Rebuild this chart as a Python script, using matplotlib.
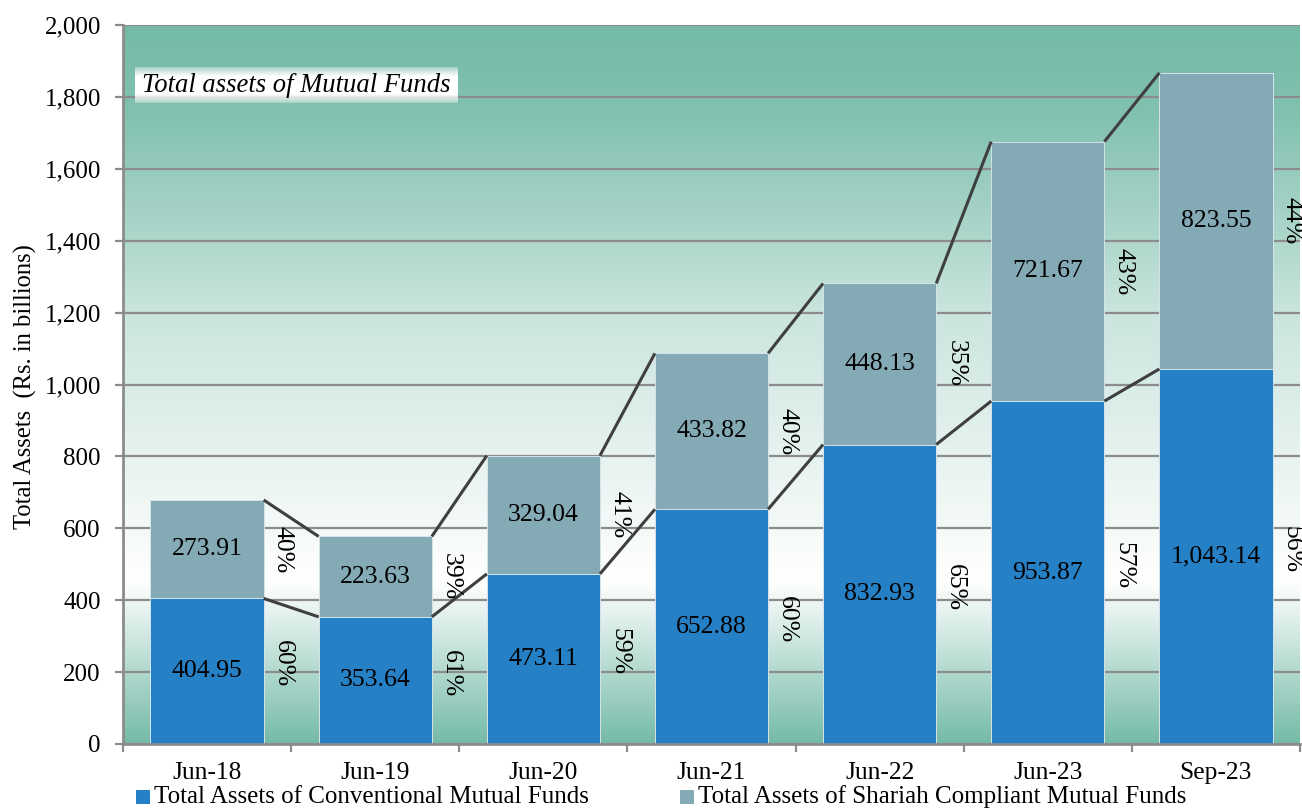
import numpy as np
import matplotlib
matplotlib.use("Agg")
import matplotlib.pyplot as plt
from matplotlib.patches import Rectangle
from matplotlib.colors import to_rgb
from matplotlib.ticker import FuncFormatter

# ---------------- data ----------------
categories = ["Jun-18", "Jun-19", "Jun-20", "Jun-21", "Jun-22", "Jun-23", "Sep-23"]
conventional = [404.95, 353.64, 473.11, 652.88, 832.93, 953.87, 1043.14]
shariah = [273.91, 223.63, 329.04, 433.82, 448.13, 721.67, 823.55]
series_names = ["Total Assets of Conventional Mutual Funds",
                "Total Assets of Shariah Compliant Mutual Funds"]
chart_title = "Total assets of Mutual Funds"
y_label = "Total Assets  (Rs. in billions)"
y_ticks = [0, 200, 400, 600, 800, 1000, 1200, 1400, 1600, 1800, 2000]

# ---------------- style ----------------
plt.rcParams['font.family'] = ['Liberation Serif', 'DejaVu Serif']
c_conv = "#2680C5"
c_shar = "#83AAB5"
c_green = "#74BAA7"
c_grid = "#8C8C8C"
c_line = "#3F3F3F"

W, H = 1302, 808
fig = plt.figure(figsize=(W / 100, H / 100), dpi=100)
ax = fig.add_axes([123 / W, 1 - 744 / H, (1300 - 123) / W, (744 - 25) / H])

n = len(categories)
x = np.arange(n)
conv = np.array(conventional)
shar = np.array(shariah)
total = conv + shar
bw = 0.673

# background gradient
g = np.array(to_rgb(c_green))
wht = np.array([1.0, 1.0, 1.0])
vals = np.linspace(0, 2000, 400)
stops_v = [0, 450, 1200, 1750, 2000]
stops_t = [0.0, 1.0, 0.62, 0.1, 0.0]
t = np.interp(vals, stops_v, stops_t)
img = g[None, :] + t[:, None] * (wht - g)[None, :]
img = img[:, None, :]
ax.imshow(img, extent=[-0.5, n - 0.5, 0, 2000], origin="lower", aspect="auto", zorder=0)

# grid
ax.set_yticks(y_ticks)
ax.yaxis.grid(True, color=c_grid, linewidth=1.6, zorder=1)
for gl in ax.get_ygridlines():
    gl.set_zorder(1)

# bars
ax.bar(x, conv, width=bw, color=c_conv, edgecolor="#d5e3ea", linewidth=0.7, zorder=2)
ax.bar(x, shar, bottom=conv, width=bw, color=c_shar, edgecolor="#d5e3ea", linewidth=0.7, zorder=2)

# series lines
for i in range(n - 1):
    for top in (conv, total):
        ax.plot([x[i] + bw / 2, x[i + 1] - bw / 2], [top[i], top[i + 1]],
                color=c_line, linewidth=2.2, zorder=3, solid_capstyle="butt")

# value labels
fs_val = 18.5
for i in range(n):
    ax.text(x[i], conv[i] / 2, f"{conv[i]:,.2f}", ha="center", va="center",
            fontsize=fs_val, zorder=4)
    ax.text(x[i], conv[i] + shar[i] / 2, f"{shar[i]:,.2f}", ha="center", va="center",
            fontsize=fs_val, zorder=4)
    pc = round(conv[i] / total[i] * 100)
    ps = round(shar[i] / total[i] * 100)
    ax.text(x[i] + 0.45, conv[i] / 2 + 20, f"{pc}%", ha="center", va="center",
            rotation=270, fontsize=fs_val, zorder=4)
    ax.text(x[i] + 0.45, conv[i] + shar[i] / 2, f"{ps}%", ha="center", va="center",
            rotation=270, fontsize=fs_val, zorder=4)

# title box with soft gradient
alpha_prof = np.interp(np.linspace(0, 1, 50), [0, 0.25, 0.75, 1], [0.35, 1, 1, 0.35])
box = np.ones((50, 1, 4))
box[:, 0, 3] = alpha_prof
ax.imshow(box, extent=[-0.43, 1.49, 1783, 1882], origin="lower", aspect="auto", zorder=4)
ax.text(-0.385, 1832, chart_title, style="italic", fontsize=19.2, ha="left", va="center", zorder=5)
ax.set_xlim(-0.5, n - 0.5)
ax.set_ylim(0, 2000)

# axes styling
for s in ("top", "right"):
    ax.spines[s].set_visible(False)
for s in ("left", "bottom"):
    ax.spines[s].set_color(c_grid)
    ax.spines[s].set_linewidth(2)
    ax.spines[s].set_zorder(6)

ax.yaxis.set_major_formatter(FuncFormatter(lambda v, p: f"{int(v):,}"))
ax.tick_params(axis="y", length=6, width=1.6, color=c_grid, labelsize=18, pad=10)

ax.set_xticks(x)
ax.set_xticklabels(categories)
ax.set_xticks(np.arange(-0.5, n, 1.0), minor=True)
ax.tick_params(axis="x", which="major", length=0, labelsize=18.4, pad=13)
ax.tick_params(axis="x", which="minor", length=6, width=1.6, color=c_grid)

fig.text(25 / W, 1 - 387 / H, y_label, rotation=90, ha="center", va="center", fontsize=17.7)

# legend (manual)
ly = 1 - 797 / H
sq = 14
for xs, col, name in ((136, c_conv, series_names[0]), (680, c_shar, series_names[1])):
    fig.add_artist(Rectangle((xs / W, ly - sq / 2 / H), sq / W, sq / H,
                             transform=fig.transFigure, facecolor=col, edgecolor="none"))
    fig.text((xs + sq + 4) / W, ly, name, ha="left", va="center", fontsize=18)

fig.savefig("out.png", dpi=100)
